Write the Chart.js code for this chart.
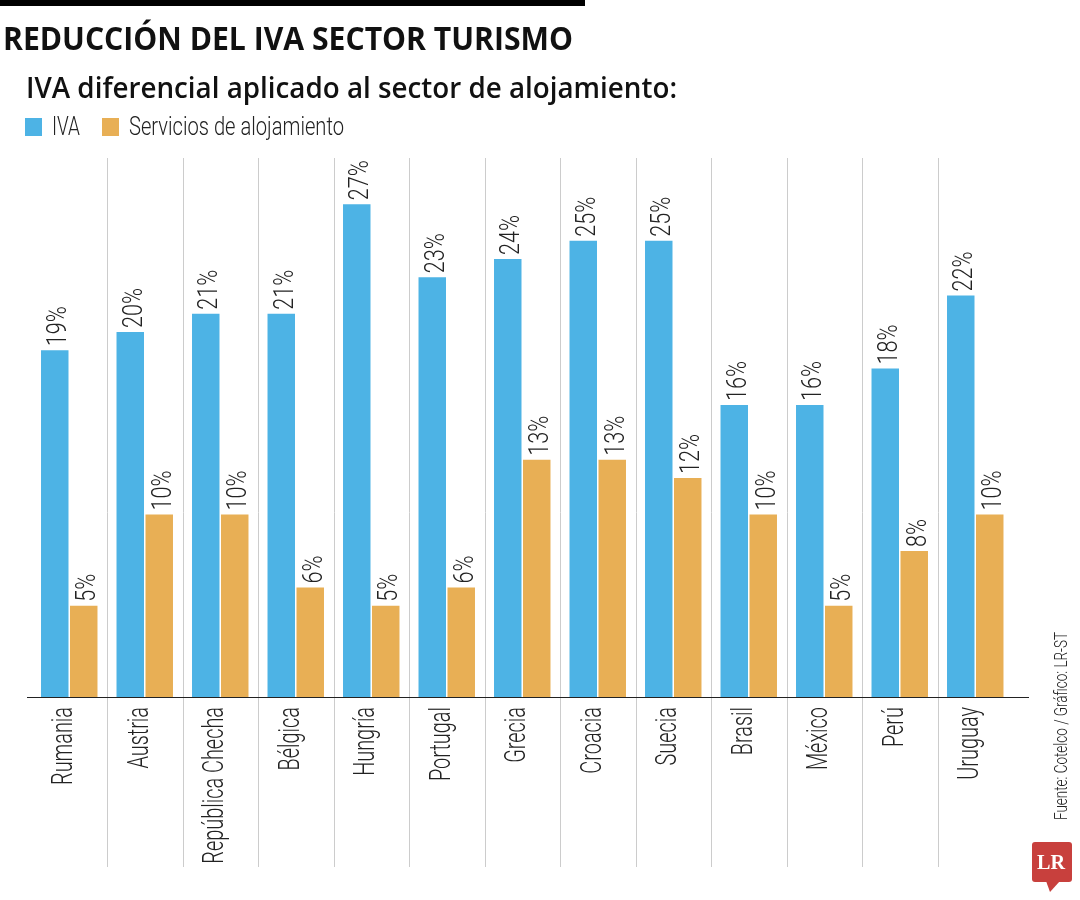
<!DOCTYPE html>
<html>
<head>
<meta charset="utf-8">
<script src="https://cdn.jsdelivr.net/npm/chart.js@4.4.1/dist/chart.umd.min.js"></script>
<style>
  html, body { margin: 0; padding: 0; background: #fff; }
  canvas { display: block; }
</style>
</head>
<body>
<canvas id="ivaChart" width="1080" height="900"></canvas>
<script>
const paises = ['Rumania', 'Austria', 'República Checha', 'Bélgica', 'Hungría', 'Portugal',
  'Grecia', 'Croacia', 'Suecia', 'Brasil', 'México', 'Perú', 'Uruguay'];
const iva = [19, 20, 21, 21, 27, 23, 24, 25, 25, 16, 16, 18, 22];
const alojamiento = [5, 10, 10, 6, 5, 6, 13, 13, 12, 10, 5, 8, 10];

const azul = '#4db3e5';
const naranja = '#e8af55';

// draws text squeezed/stretched to an exact width
function fitText(ctx, text, x, y, w) {
  const m = ctx.measureText(text).width;
  ctx.save();
  ctx.translate(x, y);
  ctx.scale(w / m, 1);
  ctx.fillText(text, 0, 0);
  ctx.restore();
}

const decor = {
  id: 'decor',
  beforeDraw(chart) {
    const ctx = chart.ctx;
    ctx.save();
    ctx.fillStyle = '#fff';
    ctx.fillRect(0, 0, chart.width, chart.height);

    // black strip
    ctx.fillStyle = '#000';
    ctx.fillRect(0, 0, 585, 6);

    ctx.fillStyle = '#111';
    ctx.textBaseline = 'alphabetic';
    ctx.textAlign = 'left';
    ctx.font = "bold 33px 'Open Sans'";
    fitText(ctx, 'REDUCCIÓN DEL IVA SECTOR TURISMO', 3, 50, 570);
    ctx.font = "600 29px 'Open Sans'";
    fitText(ctx, 'IVA diferencial aplicado al sector de alojamiento:', 26, 98, 651);

    // legend
    ctx.fillStyle = azul;
    ctx.fillRect(25, 118, 17, 18);
    ctx.fillStyle = naranja;
    ctx.fillRect(102, 118, 17, 18);
    ctx.fillStyle = '#222';
    ctx.font = "300 25px Roboto";
    fitText(ctx, 'IVA', 52, 135, 28);
    fitText(ctx, 'Servicios de alojamiento', 129, 135, 215);

    // separators between countries
    const x = chart.scales.x;
    const step = x.getPixelForValue(1) - x.getPixelForValue(0);
    ctx.strokeStyle = '#cccccc';
    ctx.lineWidth = 1;
    for (let i = 1; i < paises.length; i++) {
      const px = Math.round(x.getPixelForValue(i) - step / 2) + 0.5;
      ctx.beginPath();
      ctx.moveTo(px, 158);
      ctx.lineTo(px, 867);
      ctx.stroke();
    }
    ctx.restore();
  },
  afterDatasetsDraw(chart) {
    const ctx = chart.ctx;
    const x = chart.scales.x;
    const y = chart.scales.y;
    ctx.save();

    // base line
    const y0 = Math.round(y.getPixelForValue(0)) + 0.5;
    ctx.strokeStyle = '#222';
    ctx.lineWidth = 1.2;
    ctx.beginPath();
    ctx.moveTo(27, y0);
    ctx.lineTo(1029, y0);
    ctx.stroke();

    ctx.fillStyle = '#222';
    ctx.textBaseline = 'alphabetic';

    // value labels, rotated
    ctx.font = "300 28px Roboto";
    const kv = 40 / ctx.measureText('19%').width;
    chart.data.datasets.forEach((ds, di) => {
      chart.getDatasetMeta(di).data.forEach((bar, i) => {
        ctx.save();
        ctx.translate(bar.x + 11.5, bar.y - 4);
        ctx.rotate(-Math.PI / 2);
        ctx.scale(kv, 1);
        ctx.textAlign = 'left';
        ctx.fillText(ds.data[i] + '%', 0, 0);
        ctx.restore();
      });
    });

    // country labels, rotated
    ctx.font = "300 30px Roboto";
    const kc = 78 / ctx.measureText('Rumania').width;
    paises.forEach((p, i) => {
      ctx.save();
      ctx.translate(x.getPixelForValue(i) + 3, 707);
      ctx.rotate(-Math.PI / 2);
      ctx.scale(kc, 1);
      ctx.textAlign = 'right';
      ctx.fillText(p, 0, 0);
      ctx.restore();
    });

    // source
    ctx.font = "300 19px Roboto";
    ctx.save();
    ctx.translate(1067, 820);
    ctx.rotate(-Math.PI / 2);
    ctx.textAlign = 'left';
    fitText(ctx, 'Fuente: Cotelco / Gráfico: LR-ST', 0, 0, 188);
    ctx.restore();

    // LR logo
    ctx.fillStyle = '#c8403d';
    ctx.beginPath();
    ctx.roundRect(1032, 842, 40, 40, 3);
    ctx.fill();
    ctx.beginPath();
    ctx.moveTo(1046, 881);
    ctx.lineTo(1060, 881);
    ctx.lineTo(1050, 892);
    ctx.closePath();
    ctx.fill();
    ctx.fillStyle = '#fff';
    ctx.font = "bold 21px 'Liberation Serif'";
    ctx.textAlign = 'left';
    fitText(ctx, 'LR', 1037, 869, 28);

    ctx.restore();
  }
};

new Chart('ivaChart', {
  type: 'bar',
  data: {
    labels: paises,
    datasets: [{
      label: 'IVA',
      data: iva,
      backgroundColor: azul,
      categoryPercentage: 0.768,
      barPercentage: 0.948
    }, {
      label: 'Servicios de alojamiento',
      data: alojamiento,
      backgroundColor: naranja,
      categoryPercentage: 0.768,
      barPercentage: 0.948
    }]
  },
  options: {
    responsive: false,
    animation: false,
    devicePixelRatio: 1,
    layout: {
      padding: { left: 31.5, right: 67, top: 149.5, bottom: 0 }
    },
    plugins: {
      legend: { display: false },
      tooltip: { enabled: false }
    },
    scales: {
      x: {
        grid: { display: false },
        border: { display: false },
        ticks: { display: false },
        afterFit: function(scale) { scale.height = 203; }
      },
      y: {
        display: false,
        min: 0,
        max: 30
      }
    }
  },
  plugins: [decor]
});
</script>
</body>
</html>
